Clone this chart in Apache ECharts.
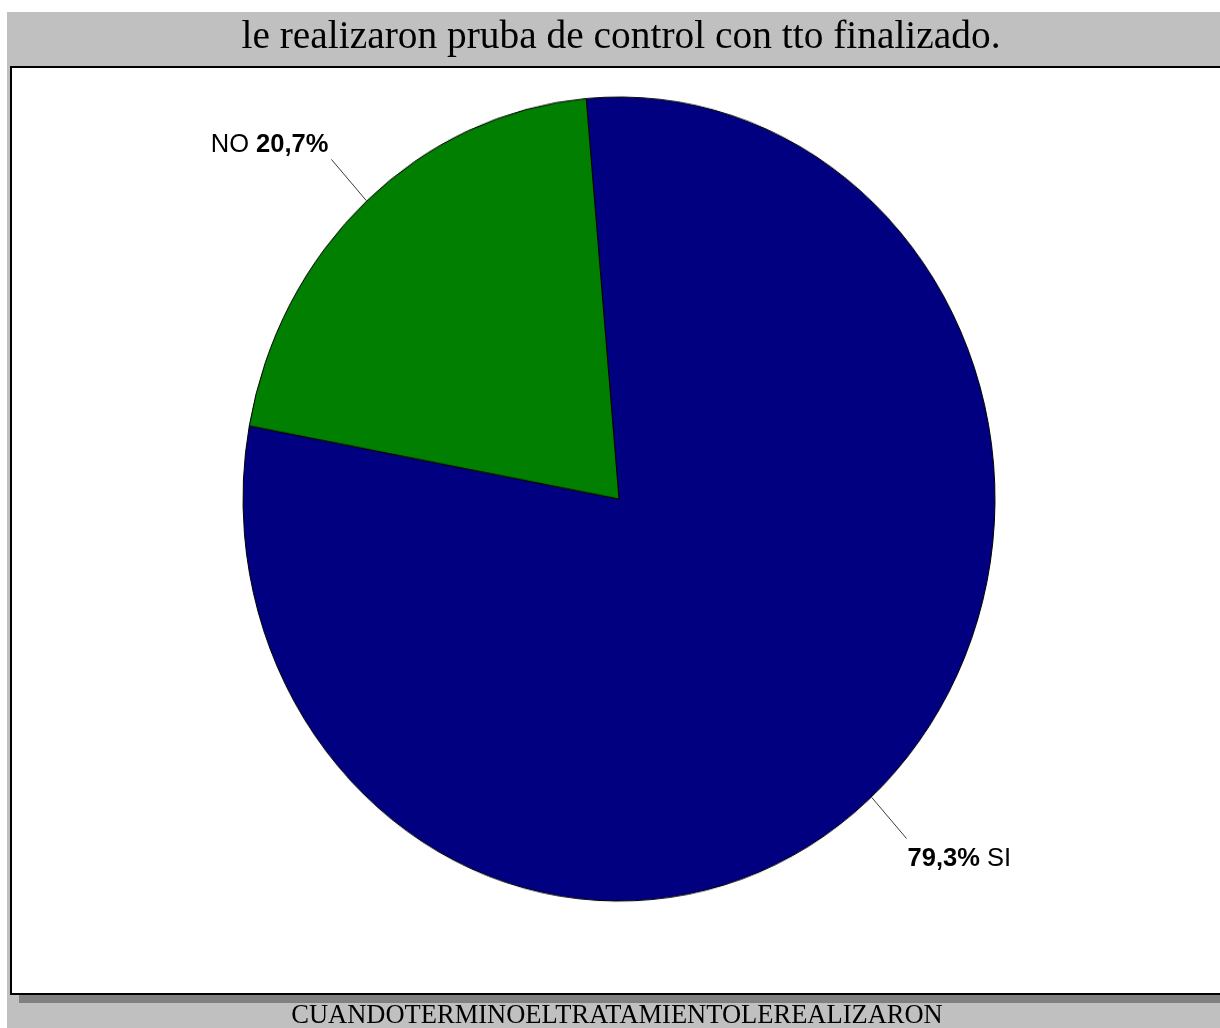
<!DOCTYPE html>
<html>
<head>
<meta charset="utf-8">
<script src="https://cdn.jsdelivr.net/npm/echarts@6/dist/echarts.min.js"></script>
<style>
  html, body { margin: 0; padding: 0; background: #ffffff; }
  #stage { position: relative; width: 1220px; height: 1028px; overflow: hidden; }
  .layer { position: absolute; left: 0; top: 0; width: 1220px; height: 1028px; }
  /* the pie is drawn as a circle and stretched vertically into an ellipse */
  #pieLayer { transform: scaleY(1.0691); transform-origin: 619px 499px; }
</style>
</head>
<body>
<div id="stage">
  <div id="baseLayer" class="layer"></div>
  <div id="pieLayer" class="layer"></div>
  <div id="labelLayer" class="layer"></div>
</div>
<script>
// Answers to "cuando terminó el tratamiento le realizaron prueba de control"
const categories = ['SI', 'NO'];
const percents = [79.3, 20.7];
const sliceColors = ['#000080', '#007f00'];
const chartTitle = 'le realizaron pruba de control con tto finalizado.';
const variableName = 'CUANDOTERMINOELTRATAMIENTOLEREALIZARON';

const CENTER = [619, 499];
const START_ANGLE = 95;
// leader lines follow the stretched slices, so their angles sit slightly lower
const LABEL_START_ANGLE = 93;

function pct(v) {
  return v.toFixed(1).replace('.', ',') + '%';
}

// background panel, plot frame and texts
const base = echarts.init(document.getElementById('baseLayer'), null, { renderer: 'canvas' });
base.setOption({
  animation: false,
  backgroundColor: '#ffffff',
  graphic: [
    { type: 'rect', shape: { x: 7, y: 12, width: 1220, height: 1020 }, style: { fill: '#c0c0c0' } },
    { type: 'rect', shape: { x: 19, y: 75, width: 1220, height: 928 }, style: { fill: '#808080' } },
    { type: 'rect', shape: { x: 11, y: 67, width: 1220, height: 927 },
      style: { fill: '#ffffff', stroke: '#000000', lineWidth: 2 } },
    { type: 'text', x: 621, y: 38,
      style: { text: chartTitle, fill: '#000000', font: '39.4px "Liberation Serif", "Times New Roman", serif',
               align: 'center', verticalAlign: 'middle' } },
    { type: 'text', x: 617, y: 1016,
      style: { text: variableName, fill: '#000000', font: '26.5px "Liberation Serif", "Times New Roman", serif',
               align: 'center', verticalAlign: 'middle' } }
  ]
});

// slices
const pie = echarts.init(document.getElementById('pieLayer'), null, { renderer: 'canvas' });
pie.setOption({
  animation: false,
  series: [{
    type: 'pie',
    center: CENTER,
    radius: 376,
    startAngle: START_ANGLE,
    clockwise: true,
    silent: true,
    label: { show: false },
    labelLine: { show: false },
    itemStyle: { borderColor: '#000000', borderWidth: 1 },
    data: categories.map((c, i) => ({ name: c, value: percents[i], itemStyle: { color: sliceColors[i] } }))
  }]
});

// slice labels with leader lines
const labelRich = {
  n: { fontFamily: '"Liberation Sans", Arial, sans-serif', fontSize: 25.5, fontWeight: 'normal', color: '#000000' },
  b: { fontFamily: '"Liberation Sans", Arial, sans-serif', fontSize: 25.5, fontWeight: 'bold', color: '#000000' }
};
const labels = echarts.init(document.getElementById('labelLayer'), null, { renderer: 'canvas' });
labels.setOption({
  animation: false,
  series: [{
    type: 'pie',
    center: CENTER,
    radius: 391,
    startAngle: LABEL_START_ANGLE,
    clockwise: true,
    silent: true,
    avoidLabelOverlap: false,
    itemStyle: { color: 'rgba(0,0,0,0)', borderWidth: 0 },
    label: { show: true, position: 'outside', rich: labelRich },
    labelLine: { show: true, length: 54, length2: 0, lineStyle: { color: '#3a3a3a', width: 1 } },
    data: categories.map((c, i) => {
      const leftSide = c === 'NO';
      return {
        name: c,
        value: percents[i],
        label: leftSide
          ? { formatter: '{n|' + c + ' }{b|' + pct(percents[i]) + '}', padding: [0, 0, 28, 0], distanceToLabelLine: 3 }
          : { formatter: '{b|' + pct(percents[i]) + '}{n| ' + c + '}', padding: [40, 0, 0, 0], distanceToLabelLine: 1 }
      };
    })
  }]
});
</script>
</body>
</html>
